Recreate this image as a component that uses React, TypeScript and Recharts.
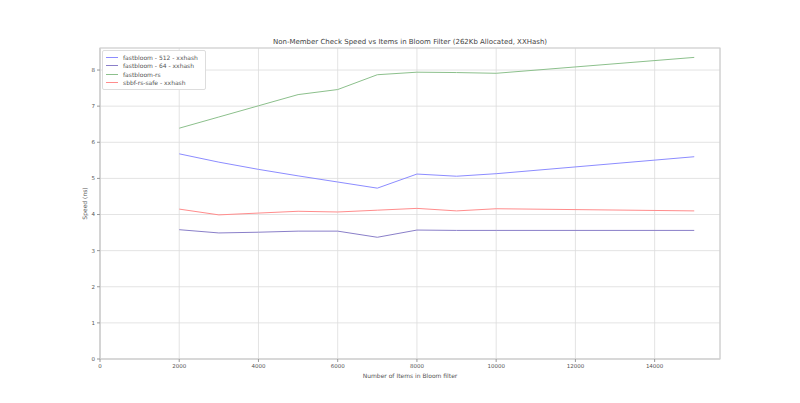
import {
  LineChart,
  Line,
  XAxis,
  YAxis,
  CartesianGrid,
  ReferenceArea,
} from "recharts";

const items = [2000, 3000, 4000, 5000, 6000, 7000, 8000, 9000, 10000, 15000];
const fb512 = [5.68, 5.45, 5.25, 5.07, 4.9, 4.73, 5.12, 5.06, 5.13, 5.6];
const fb64 = [3.58, 3.49, 3.51, 3.54, 3.54, 3.37, 3.57, 3.56, 3.56, 3.56];
const fbRs = [6.39, 6.7, 7.01, 7.32, 7.46, 7.87, 7.94, 7.93, 7.91, 8.35];
const sbbf = [4.15, 3.99, 4.04, 4.09, 4.07, 4.12, 4.17, 4.1, 4.16, 4.1];

const xTicks = [0, 2000, 4000, 6000, 8000, 10000, 12000, 14000];
const yTicks = [0, 1, 2, 3, 4, 5, 6, 7, 8];
const X_MAX = 15650;
const Y_MAX = 8.61;

const series = [
  { key: "fb512", name: "fastbloom - 512 - xxhash", color: "#8c8cff" },
  { key: "fb64", name: "fastbloom - 64 - xxhash", color: "#8a7fc9" },
  { key: "fbRs", name: "fastbloom-rs", color: "#8cc08c" },
  { key: "sbbf", name: "sbbf-rs-safe - xxhash", color: "#ff8c8c" },
];

const data = items.map((n, i) => ({
  n,
  fb512: fb512[i],
  fb64: fb64[i],
  fbRs: fbRs[i],
  sbbf: sbbf[i],
}));

const FONT = "'DejaVu Sans', sans-serif";
const tickStyle = { fill: "#555", stroke: "none", fontSize: 5.5, fontFamily: FONT };

export default function App() {
  return (
    <div style={{ position: "absolute", left: 0, top: 0, width: 800, height: 403, background: "#fff" }}>
      <LineChart
        width={800}
        height={403}
        data={data}
        margin={{ top: 48, right: 80, bottom: 14, left: 70 }}
      >
        <CartesianGrid stroke="#dcdcdc" strokeWidth={0.8} />
        <ReferenceArea x1={0} x2={X_MAX} y1={0} y2={Y_MAX} fill="none" stroke="#cfcfcf" strokeWidth={1.2} />
        <XAxis
          dataKey="n"
          type="number"
          domain={[0, X_MAX]}
          ticks={xTicks}
          allowDataOverflow
          tick={tickStyle}
          tickSize={3}
          axisLine={{ stroke: "#cfcfcf", strokeWidth: 1.2 }}
          tickLine={{ stroke: "#999" }}
          height={30}
          label={{
            value: "Number of Items in Bloom filter",
            position: "insideBottom",
            offset: 11,
            fill: "#555",
            fontSize: 6,
            fontFamily: FONT,
          }}
        />
        <YAxis
          type="number"
          domain={[0, Y_MAX]}
          ticks={yTicks}
          allowDataOverflow
          tick={tickStyle}
          tickSize={3}
          axisLine={{ stroke: "#cfcfcf", strokeWidth: 1.2 }}
          tickLine={{ stroke: "#999" }}
          width={30}
          label={{
            value: "Speed (ns)",
            angle: -90,
            position: "insideLeft",
            offset: 15,
            fill: "#555",
            fontSize: 6,
            fontFamily: FONT,
            style: { textAnchor: "middle" },
          }}
        />
        {series.map((s) => (
          <Line
            key={s.key}
            dataKey={s.key}
            name={s.name}
            stroke={s.color}
            strokeWidth={1}
            dot={false}
            isAnimationActive={false}
          />
        ))}
      </LineChart>
      <div
        style={{
          position: "absolute",
          left: 100,
          width: 620,
          top: 38,
          textAlign: "center",
          fontFamily: FONT,
          fontSize: 7,
          color: "#444",
        }}
      >
        Non-Member Check Speed vs Items in Bloom Filter (262Kb Allocated, XXHash)
      </div>
      <div
        style={{
          position: "absolute",
          left: 102,
          top: 50,
          border: "1px solid #ddd",
          borderRadius: 2,
          background: "#fff",
          padding: "2px 7px 2px 3px",
          fontFamily: FONT,
          fontSize: 6,
          color: "#555",
        }}
      >
        {series.map((s) => (
          <div key={s.key} style={{ display: "flex", alignItems: "center", height: 8.5 }}>
            <span style={{ display: "inline-block", width: 12, height: 1, background: s.color, marginRight: 5 }} />
            {s.name}
          </div>
        ))}
      </div>
    </div>
  );
}
